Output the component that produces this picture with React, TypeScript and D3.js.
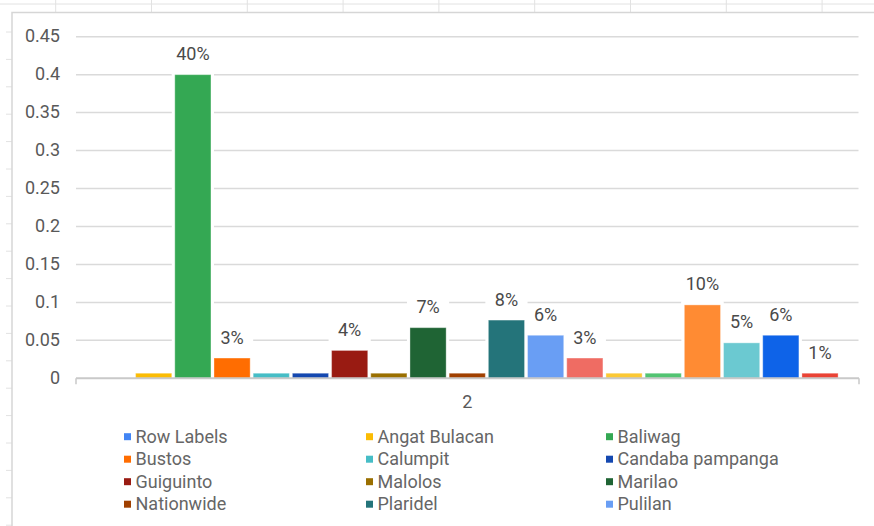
import React from 'react';
import * as d3 from 'd3';

// category on the x axis
const categories = ['2'];

// series (legend only shows the first page of 12)
const seriesNames = [
  'Row Labels', 'Angat Bulacan', 'Baliwag', 'Bustos', 'Calumpit', 'Candaba pampanga',
  'Guiguinto', 'Malolos', 'Marilao', 'Nationwide', 'Plaridel', 'Pulilan',
  'Series 13', 'Series 14', 'Series 15', 'Series 16', 'Series 17', 'Series 18', 'Series 19',
];
const seriesValues = [
  0, 0.0067, 0.4, 0.0267, 0.0067, 0.0067, 0.0367, 0.0067, 0.0667, 0.0067, 0.0767, 0.0567,
  0.0267, 0.0067, 0.0067, 0.0967, 0.0467, 0.0567, 0.0067,
];
const valueLabels = [
  '', '', '40%', '3%', '', '', '4%', '', '7%', '', '8%', '6%',
  '3%', '', '', '10%', '5%', '6%', '1%',
];
const seriesColors = [
  '#4285f4', '#fbbc04', '#34a853', '#ff6d01', '#46bdc6', '#1448b0',
  '#991b12', '#9a6f00', '#1f6434', '#a04000', '#24747a', '#699ef4',
  '#ef6c63', '#fcc934', '#52c472', '#ff8b33', '#6bc9d1', '#0e63e8', '#ea4335',
];
const yTicks = [0, 0.05, 0.1, 0.15, 0.2, 0.25, 0.3, 0.35, 0.4, 0.45];
const yTickLabels = ['0', '0.05', '0.1', '0.15', '0.2', '0.25', '0.3', '0.35', '0.4', '0.45'];
const legendCount = 12;

const W = 874;
const H = 526;
const font = 'Roboto, "Noto Sans", Arial, sans-serif';

export default function App() {
  const left = 76;
  const right = 858.5;
  const baseY = 378.3;
  const topY = 36.7;

  const y = d3.scaleLinear().domain([0, 0.45]).range([baseY, topY]);
  const x0 = d3.scaleBand().domain(categories).range([left, right]).paddingInner(0).paddingOuter(0.0275);
  const x1 = d3.scaleBand().domain(seriesNames).range([0, x0.bandwidth()]).paddingInner(0.077).paddingOuter(0);
  const bw = x1.bandwidth();

  // spreadsheet decoration behind the chart
  const colLines = d3.range(9).map(i => 55.7 + i * 95.8);
  const rowTicks = d3.range(19).map(i => 32 + i * 27.4);

  const bars = categories.flatMap(c =>
    seriesNames.map((s, i) => ({
      x: (x0(c) as number) + (x1(s) as number),
      v: seriesValues[i],
      color: seriesColors[i],
      label: valueLabels[i],
    }))
  );

  const colX = [124, 366, 606];
  const legendItems = seriesNames.slice(0, legendCount).map((s, i) => ({
    name: s,
    color: seriesColors[i],
    col: i % 3,
    row: Math.floor(i / 3),
  }));

  return (
    <svg width={W} height={H} style={{ position: 'absolute', left: 0, top: 0, background: '#fff' }}
      fontFamily={font}>
      <rect width={W} height={H} fill="#fff" />
      {/* sheet grid */}
      <line x1={0} x2={W} y1={4} y2={4} stroke="#e2e2e2" strokeWidth={1} />
      {colLines.map((cx, i) => (
        <line key={'c' + i} x1={cx} x2={cx} y1={0} y2={12} stroke="#e2e2e2" strokeWidth={1} />
      ))}
      {rowTicks.map((ry, i) => (
        <line key={'r' + i} x1={6} x2={12} y1={ry} y2={ry} stroke="#e2e2e2" strokeWidth={1} />
      ))}
      {/* chart frame */}
      <path d={`M12,${H + 2}V12.5H${W + 2}`} fill="none" stroke="#d6d6d6" strokeWidth={1.5} />

      {/* gridlines */}
      {yTicks.slice(1).map(t => (
        <line key={'g' + t} x1={left} x2={right} y1={y(t)} y2={y(t)} stroke="#dadada" strokeWidth={1.5} />
      ))}
      {yTicks.map((t, i) => (
        <text key={'yt' + t} x={60} y={y(t) + 5.5} textAnchor="end" fontSize={18} fill="#595959">
          {yTickLabels[i]}
        </text>
      ))}

      {/* white knockouts around bars and labels */}
      {bars.map((b, i) => b.v > 0 ? (
        <rect key={'k' + i} x={b.x - 3} y={y(b.v) - 3} width={bw + 6} height={baseY - y(b.v) + 3} fill="#fff" />
      ) : null)}
      {bars.map((b, i) => b.label ? (
        <rect key={'lk' + i} x={b.x - 3} y={y(b.v) - 14.5 - 15} width={bw + 6} height={29.5} fill="#fff" />
      ) : null)}

      {/* bars */}
      {bars.map((b, i) => b.v > 0 ? (
        <rect key={'b' + i} x={b.x} y={y(b.v)} width={bw} height={baseY - y(b.v)} fill={b.color}
          stroke="#ffffff" strokeOpacity={0.35} strokeWidth={1} />
      ) : null)}
      {bars.map((b, i) => b.label ? (
        <text key={'l' + i} x={b.x + bw / 2} y={y(b.v) - 14.5} textAnchor="middle" fontSize={18} fill="#4a4a4a">
          {b.label}
        </text>
      ) : null)}

      {/* x axis */}
      <line x1={left} x2={right + 0.5} y1={baseY} y2={baseY} stroke="#c9c9c9" strokeWidth={2} />
      <line x1={left} x2={left} y1={baseY} y2={baseY + 6} stroke="#c9c9c9" strokeWidth={1.5} />
      <line x1={right + 0.5} x2={right + 0.5} y1={baseY} y2={baseY + 6} stroke="#c9c9c9" strokeWidth={1.5} />
      {categories.map(c => (
        <text key={'x' + c} x={(x0(c) as number) + x0.bandwidth() / 2} y={408} textAnchor="middle"
          fontSize={18} fill="#595959">{c}</text>
      ))}

      {/* legend */}
      {legendItems.map(d => {
        const cy = 436.7 + d.row * 22.5;
        return (
          <g key={d.name}>
            <rect x={colX[d.col]} y={cy - 3.5} width={7} height={7} fill={d.color} />
            <text x={colX[d.col] + 11.5} y={cy + 6} fontSize={18} fill="#666">{d.name}</text>
          </g>
        );
      })}
    </svg>
  );
}
